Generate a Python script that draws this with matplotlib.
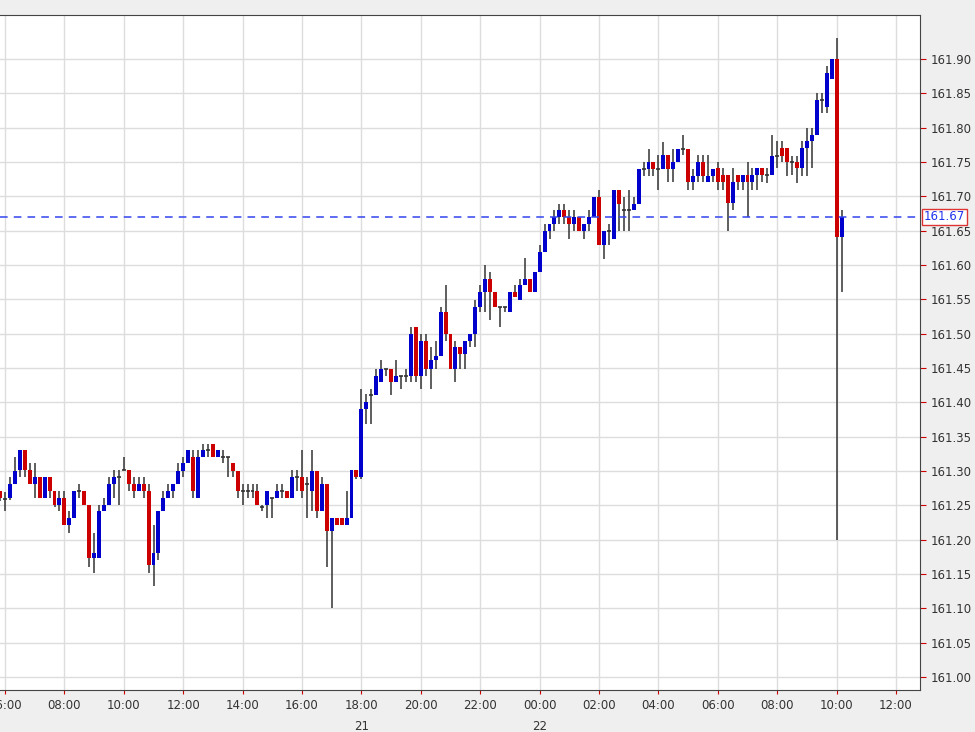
import numpy as np
import matplotlib.pyplot as plt

base = 161.0
# 10-minute candles, price above 161.00
opens = [0.271, 0.259, 0.260, 0.281, 0.301, 0.330, 0.301, 0.281, 0.291, 0.260,
         0.291, 0.271, 0.250, 0.260, 0.221, 0.231, 0.271, 0.271, 0.250, 0.173,
         0.173, 0.241, 0.250, 0.281, 0.291, 0.301, 0.301, 0.281, 0.271, 0.281,
         0.271, 0.163, 0.180, 0.241, 0.260, 0.271, 0.281, 0.300, 0.311, 0.320,
         0.260, 0.320, 0.330, 0.340, 0.320, 0.320, 0.320, 0.311, 0.300, 0.271,
         0.271, 0.271, 0.271, 0.248, 0.250, 0.260, 0.260, 0.271, 0.271, 0.260,
         0.291, 0.291, 0.281, 0.271, 0.300, 0.241, 0.281, 0.212, 0.231, 0.231,
         0.221, 0.231, 0.301, 0.291, 0.390, 0.410, 0.410, 0.430, 0.449, 0.449,
         0.430, 0.439, 0.439, 0.439, 0.510, 0.439, 0.490, 0.449, 0.461, 0.468,
         0.532, 0.500, 0.449, 0.480, 0.471, 0.490, 0.500, 0.539, 0.561, 0.580,
         0.561, 0.539, 0.539, 0.532, 0.561, 0.549, 0.571, 0.580, 0.561, 0.590,
         0.619, 0.650, 0.660, 0.670, 0.680, 0.670, 0.660, 0.670, 0.650, 0.660,
         0.670, 0.699, 0.629, 0.650, 0.638, 0.709, 0.680, 0.680, 0.680, 0.689,
         0.740, 0.740, 0.750, 0.740, 0.740, 0.760, 0.740, 0.750, 0.769, 0.769,
         0.721, 0.730, 0.750, 0.721, 0.730, 0.741, 0.731, 0.731, 0.690, 0.731,
         0.721, 0.731, 0.721, 0.731, 0.741, 0.731, 0.731, 0.759, 0.770, 0.770,
         0.750, 0.750, 0.741, 0.770, 0.780, 0.790, 0.840, 0.830, 0.871, 0.900, 0.641]
highs = [0.271, 0.270, 0.291, 0.320, 0.330, 0.330, 0.311, 0.311, 0.291, 0.291,
         0.291, 0.271, 0.271, 0.271, 0.241, 0.271, 0.281, 0.271, 0.250, 0.210,
         0.250, 0.260, 0.291, 0.301, 0.301, 0.320, 0.301, 0.291, 0.291, 0.291,
         0.281, 0.221, 0.241, 0.271, 0.281, 0.281, 0.311, 0.320, 0.330, 0.330,
         0.330, 0.340, 0.340, 0.340, 0.330, 0.330, 0.320, 0.311, 0.300, 0.281,
         0.281, 0.281, 0.281, 0.250, 0.271, 0.260, 0.281, 0.281, 0.271, 0.301,
         0.301, 0.330, 0.291, 0.330, 0.300, 0.291, 0.281, 0.231, 0.231, 0.231,
         0.271, 0.301, 0.301, 0.420, 0.412, 0.420, 0.449, 0.461, 0.449, 0.449,
         0.461, 0.439, 0.449, 0.510, 0.510, 0.500, 0.500, 0.480, 0.490, 0.539,
         0.571, 0.500, 0.490, 0.480, 0.490, 0.500, 0.549, 0.571, 0.600, 0.590,
         0.561, 0.539, 0.539, 0.561, 0.571, 0.580, 0.610, 0.580, 0.590, 0.629,
         0.660, 0.660, 0.680, 0.689, 0.689, 0.680, 0.680, 0.670, 0.660, 0.680,
         0.699, 0.709, 0.650, 0.660, 0.709, 0.709, 0.699, 0.709, 0.699, 0.740,
         0.750, 0.769, 0.750, 0.760, 0.779, 0.760, 0.769, 0.769, 0.789, 0.769,
         0.740, 0.760, 0.760, 0.760, 0.740, 0.750, 0.741, 0.731, 0.741, 0.731,
         0.731, 0.750, 0.741, 0.741, 0.741, 0.741, 0.790, 0.780, 0.780, 0.770,
         0.759, 0.759, 0.780, 0.800, 0.800, 0.850, 0.850, 0.890, 0.900, 0.930, 0.680]
lows = [0.256, 0.241, 0.258, 0.281, 0.291, 0.291, 0.281, 0.260, 0.260, 0.260,
        0.260, 0.248, 0.241, 0.221, 0.210, 0.231, 0.260, 0.250, 0.160, 0.151,
        0.173, 0.241, 0.250, 0.260, 0.250, 0.301, 0.271, 0.260, 0.271, 0.260,
        0.151, 0.132, 0.171, 0.241, 0.260, 0.260, 0.281, 0.291, 0.311, 0.260,
        0.260, 0.320, 0.320, 0.320, 0.320, 0.311, 0.291, 0.291, 0.260, 0.250,
        0.260, 0.260, 0.250, 0.241, 0.231, 0.231, 0.260, 0.260, 0.260, 0.260,
        0.271, 0.260, 0.231, 0.241, 0.231, 0.241, 0.160, 0.100, 0.221, 0.221,
        0.221, 0.231, 0.289, 0.289, 0.369, 0.369, 0.410, 0.430, 0.439, 0.410,
        0.430, 0.420, 0.429, 0.429, 0.429, 0.420, 0.439, 0.420, 0.449, 0.468,
        0.490, 0.449, 0.429, 0.449, 0.449, 0.480, 0.480, 0.532, 0.532, 0.520,
        0.539, 0.510, 0.532, 0.532, 0.554, 0.549, 0.571, 0.561, 0.561, 0.590,
        0.619, 0.638, 0.650, 0.660, 0.660, 0.638, 0.650, 0.650, 0.638, 0.650,
        0.670, 0.629, 0.609, 0.629, 0.638, 0.650, 0.650, 0.650, 0.680, 0.689,
        0.730, 0.730, 0.730, 0.709, 0.740, 0.721, 0.721, 0.750, 0.760, 0.709,
        0.709, 0.721, 0.721, 0.721, 0.721, 0.709, 0.709, 0.649, 0.680, 0.709,
        0.709, 0.670, 0.709, 0.709, 0.721, 0.720, 0.731, 0.741, 0.750, 0.729,
        0.731, 0.719, 0.729, 0.729, 0.741, 0.790, 0.821, 0.821, 0.871, 0.200, 0.560]
closes = [0.260, 0.259, 0.281, 0.300, 0.330, 0.301, 0.281, 0.291, 0.260, 0.291,
          0.271, 0.250, 0.260, 0.221, 0.231, 0.271, 0.271, 0.250, 0.173, 0.180,
          0.241, 0.250, 0.281, 0.291, 0.291, 0.301, 0.281, 0.271, 0.281, 0.271,
          0.163, 0.180, 0.241, 0.260, 0.271, 0.281, 0.300, 0.311, 0.330, 0.271,
          0.320, 0.330, 0.330, 0.320, 0.330, 0.320, 0.320, 0.300, 0.271, 0.271,
          0.271, 0.271, 0.250, 0.248, 0.271, 0.260, 0.271, 0.271, 0.260, 0.291,
          0.291, 0.271, 0.281, 0.300, 0.241, 0.281, 0.212, 0.231, 0.221, 0.221,
          0.231, 0.301, 0.291, 0.390, 0.400, 0.410, 0.439, 0.449, 0.449, 0.430,
          0.439, 0.439, 0.439, 0.500, 0.439, 0.490, 0.449, 0.461, 0.468, 0.532,
          0.500, 0.449, 0.480, 0.471, 0.490, 0.500, 0.539, 0.561, 0.580, 0.561,
          0.539, 0.539, 0.539, 0.561, 0.554, 0.571, 0.580, 0.561, 0.590, 0.619,
          0.650, 0.660, 0.670, 0.680, 0.670, 0.660, 0.670, 0.650, 0.660, 0.670,
          0.699, 0.629, 0.650, 0.650, 0.709, 0.689, 0.680, 0.680, 0.689, 0.740,
          0.740, 0.750, 0.740, 0.740, 0.760, 0.740, 0.750, 0.769, 0.769, 0.721,
          0.730, 0.750, 0.730, 0.730, 0.740, 0.721, 0.721, 0.690, 0.721, 0.721,
          0.731, 0.721, 0.731, 0.741, 0.731, 0.731, 0.759, 0.759, 0.759, 0.750,
          0.750, 0.741, 0.770, 0.780, 0.790, 0.841, 0.840, 0.880, 0.900, 0.641, 0.670]

first_hour = 5 + 50 / 60   # first candle 05:50
step = 10 / 60
last_price = 161.67

tick_hours = list(range(6, 37, 2))
tick_labels = ['%02d:00' % (h % 24) for h in tick_hours]
day_marks = {18: '21', 24: '22'}

o = base + np.array(opens)
h = base + np.array(highs)
l = base + np.array(lows)
c = base + np.array(closes)
t = first_hour + step * np.arange(len(o))

fig = plt.figure(figsize=(9.75, 7.32), dpi=100, facecolor='#efefef')
ax = fig.add_axes([0, 0.0574, 0.9436, 0.922])
ax.set_facecolor('white')

w = step * 0.8
ax.vlines(t, l, h, color='#333333', lw=1.1, zorder=2)
for ti, oi, ci in zip(t, o, c):
    if abs(ci - oi) < 1e-9:
        ax.hlines(oi, ti - w / 2, ti + w / 2, color='#333333', lw=1.2, zorder=3)
    else:
        col = '#0000cc' if ci > oi else '#cc0000'
        ax.bar(ti, abs(ci - oi), bottom=min(oi, ci), width=w, color=col, zorder=3)

ax.axhline(last_price, color='#3344ee', ls=(0, (5, 4)), lw=1.1, zorder=4)

ax.set_xlim(6 - 5 / 29.7, 6 + 915 / 29.7)
ax.set_ylim(160.981, 161.964)
ax.set_xticks(tick_hours)
ax.set_xticklabels(tick_labels)
for hh, lab in day_marks.items():
    ax.text(hh, -0.045, lab, transform=ax.get_xaxis_transform(), ha='center',
            va='top', fontsize=8.5, color='#333333')
ax.set_yticks(np.arange(161.0, 161.91, 0.05))
ax.yaxis.set_major_formatter(plt.FuncFormatter(lambda v, p: '%.2f' % v))
ax.yaxis.tick_right()
ax.tick_params(axis='y', colors='#cc0000', labelcolor='#333333', labelsize=8.5,
               length=4, direction='out')
ax.tick_params(axis='x', colors='#cc0000', labelcolor='#333333', labelsize=8.5,
               length=3, direction='out')
ax.grid(True, color='#dddddd', lw=1)
ax.set_axisbelow(True)
for side in ['top', 'right', 'bottom']:
    ax.spines[side].set_color('#444444')
ax.spines['left'].set_visible(False)

ax.text(1.004, last_price, '%.2f' % last_price, transform=ax.get_yaxis_transform(),
        va='center', ha='left', fontsize=8.5, color='#2233ee',
        bbox=dict(boxstyle='square,pad=0.15', fc='white', ec='#dd3333', lw=1))

fig.savefig('out.png', dpi=100, facecolor=fig.get_facecolor())
